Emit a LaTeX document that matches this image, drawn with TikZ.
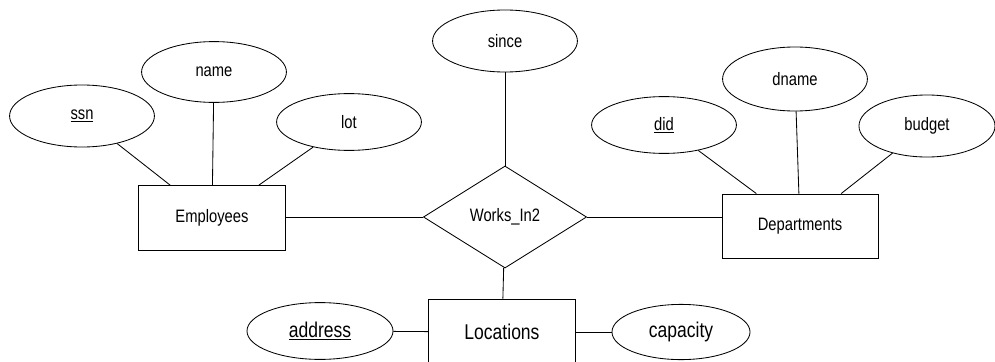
\documentclass[tikz,border=0pt]{standalone}
\usepackage{fontspec}
\setmainfont{Liberation Sans}[FakeStretch=0.82]
\usetikzlibrary{shapes.geometric}
\tikzset{
  attr/.style={draw, ellipse, inner sep=0pt, minimum width=3.62cm, minimum height=1.45cm, font=\fontsize{12.8}{15}\selectfont},
  entity/.style={draw, rectangle, inner sep=0pt, minimum width=3.68cm, minimum height=1.62cm, font=\fontsize{12.8}{15}\selectfont},
  relship/.style={draw, diamond, inner sep=0pt, minimum width=4.08cm, minimum height=2.55cm, font=\fontsize{12.8}{15}\selectfont},
  bigtext/.style={font=\fontsize{15.2}{18}\selectfont}
}
\newcommand{\keyattr}[1]{\underline{#1}}

\begin{document}
\begin{tikzpicture}[x=0.025cm, y=-0.025cm, line width=0.6pt]
  \useasboundingbox (0,0) rectangle (995,362);
  % entity sets and the relationship
  \node[entity] (emp) at (212,218) {Employees};
  \node[entity, minimum width=3.9cm, minimum height=1.6cm] (dept) at (800,226) {Departments};
  \node[entity, bigtext, minimum height=1.65cm] (loc) at (502,332) {Locations};
  \node[relship] (works) at (505,217) {Works\_In2};
  % attributes
  \node[attr, minimum height=1.55cm] (ssn) at (82,116) {\keyattr{ssn}};
  \node[attr, minimum height=1.52cm] (name) at (214,72) {name};
  \node[attr, minimum height=1.42cm] (lot) at (349,122) {lot};
  \node[attr, minimum height=1.55cm] (since) at (505,41) {since};
  \node[attr, minimum height=1.42cm] (did) at (664,125) {\keyattr{did}};
  \node[attr, minimum height=1.6cm] (dname) at (795,79) {dname};
  \node[attr, minimum width=3.4cm, minimum height=1.55cm] (budget) at (927,126) {budget};
  \node[attr, bigtext, minimum width=3.65cm, minimum height=1.42cm] (addr) at (320,331) {\keyattr{address}};
  \node[attr, bigtext, minimum width=3.45cm, minimum height=1.38cm] (cap) at (681,332) {capacity};
  % links
  \draw (ssn) -- (emp);
  \draw (name) -- (emp);
  \draw (lot) -- (emp);
  \draw (did) -- (dept);
  \draw (dname) -- (dept);
  \draw (budget) -- (dept);
  \draw (since) -- (works);
  \draw (emp.east |- works.west) -- (works.west);
  \draw (works.east) -- (works.east -| dept.west);
  \draw (works) -- (loc);
  \draw (addr) -- (loc);
  \draw (loc) -- (cap);
\end{tikzpicture}
\end{document}
